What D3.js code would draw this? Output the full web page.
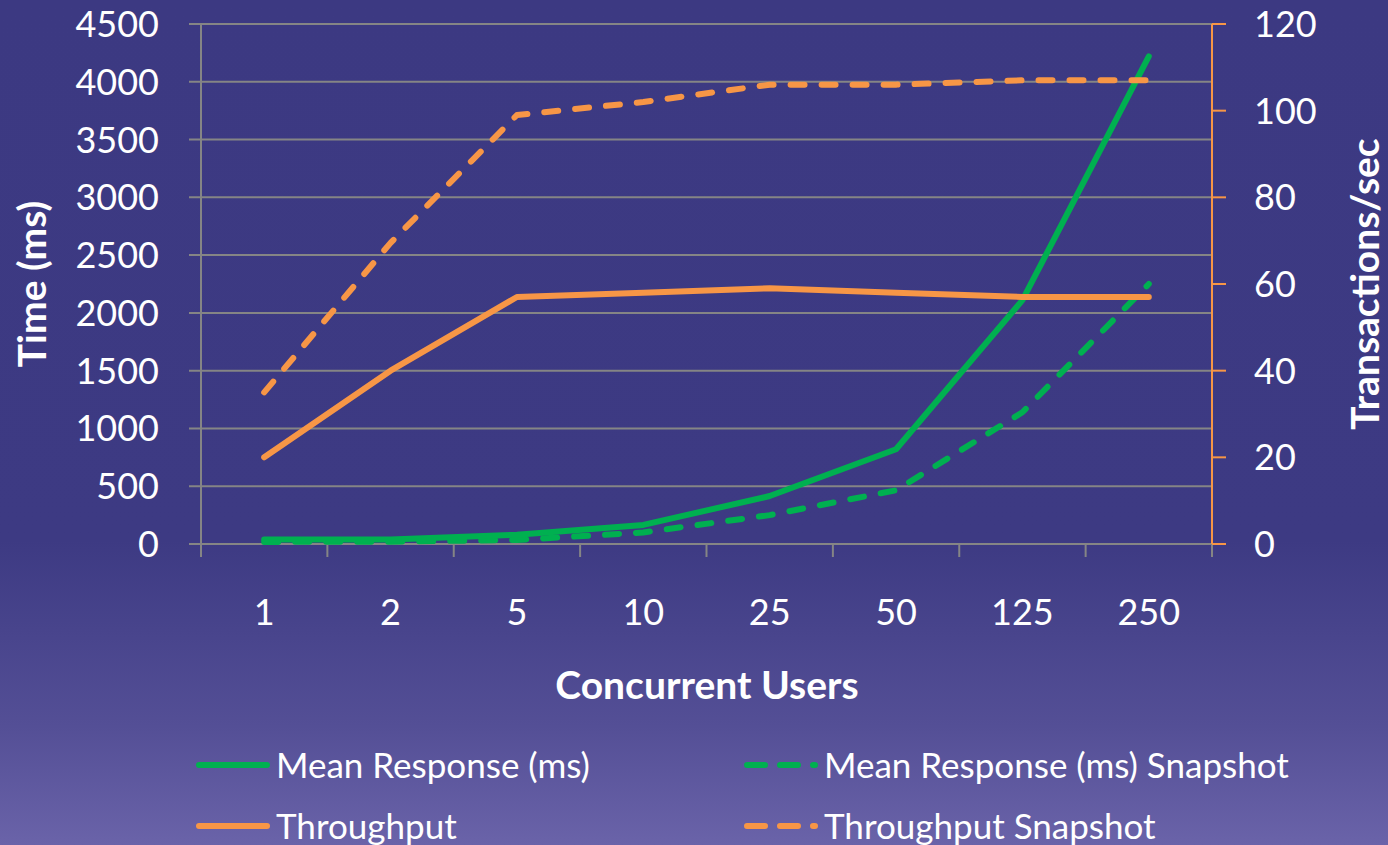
<!DOCTYPE html>
<html><head><meta charset="utf-8">
<script src="https://cdn.jsdelivr.net/npm/d3@7"></script>
<style>html,body{margin:0;padding:0;overflow:hidden;}svg{display:block;}</style>
</head><body><svg id="c" width="1388" height="845"></svg>
<script>
const categories = ["1","2","5","10","25","50","125","250"];
const meanResponse = [38, 40, 80, 165, 415, 820, 2110, 4220];
const meanResponseSnapshot = [18, 20, 35, 100, 250, 465, 1140, 2250];
const throughput = [20, 40, 57, 58, 59, 58, 57, 57];
const throughputSnapshot = [35, 69.5, 99, 102, 106, 106, 107, 107];
const leftTicks = [0,500,1000,1500,2000,2500,3000,3500,4000,4500];
const rightTicks = [0,20,40,60,80,100,120];

const W = 1388, H = 845;
const m = {l: 201, r: 1212, t: 24, b: 544};
const FONT = "Lato, 'Open Sans', sans-serif";
const GREEN = "#00b050", ORANGE = "#f79646", GRID = "#858585";

const svg = d3.select("#c");
const defs = svg.append("defs");
const g = defs.append("linearGradient").attr("id","bg").attr("x1",0).attr("y1",0).attr("x2",0).attr("y2",1);
g.append("stop").attr("offset","0%").attr("stop-color","#3c3982");
g.append("stop").attr("offset","64%").attr("stop-color","#3d3a83");
g.append("stop").attr("offset","86%").attr("stop-color","#544f96");
g.append("stop").attr("offset","100%").attr("stop-color","#6a63a9");
svg.append("rect").attr("width",W).attr("height",H).attr("fill","url(#bg)");

const x = d3.scaleBand().domain(categories).range([m.l, m.r]);
const yL = d3.scaleLinear().domain([0,4500]).range([m.b, m.t]);
const yR = d3.scaleLinear().domain([0,120]).range([m.b, m.t]);

// gridlines
svg.append("g").selectAll("line").data(leftTicks).join("line")
  .attr("x1", m.l - 12).attr("x2", m.r)
  .attr("y1", d => yL(d)).attr("y2", d => yL(d))
  .attr("stroke", GRID).attr("stroke-width", 2);

// left axis line
svg.append("line").attr("x1", m.l).attr("x2", m.l).attr("y1", m.t).attr("y2", m.b + 13)
  .attr("stroke", GRID).attr("stroke-width", 2);
// bottom ticks at band boundaries
const bounds = categories.map(c => x(c)).concat([m.r]);
svg.append("g").selectAll("line").data(bounds.slice(1)).join("line")
  .attr("x1", d => d).attr("x2", d => d).attr("y1", m.b).attr("y2", m.b + 13)
  .attr("stroke", GRID).attr("stroke-width", 2);

// left tick labels
svg.append("g").selectAll("text").data(leftTicks).join("text")
  .attr("x", 159).attr("y", d => yL(d)).attr("dy", "0.36em")
  .attr("text-anchor", "end").attr("fill", "#fff")
  .attr("font-family", FONT).attr("font-size", 36).text(d => d);

// right axis
svg.append("line").attr("x1", m.r).attr("x2", m.r).attr("y1", m.t).attr("y2", m.b)
  .attr("stroke", ORANGE).attr("stroke-width", 2);
svg.append("g").selectAll("line").data(rightTicks).join("line")
  .attr("x1", m.r).attr("x2", m.r + 14).attr("y1", d => yR(d)).attr("y2", d => yR(d))
  .attr("stroke", ORANGE).attr("stroke-width", 2);
svg.append("g").selectAll("text").data(rightTicks).join("text")
  .attr("x", 1254).attr("y", d => yR(d)).attr("dy", "0.36em")
  .attr("text-anchor", "start").attr("fill", "#fff")
  .attr("font-family", FONT).attr("font-size", 36).text(d => d);

// x tick labels
svg.append("g").selectAll("text").data(categories).join("text")
  .attr("x", d => x(d) + x.bandwidth()/2).attr("y", 612).attr("dy", "0.36em")
  .attr("text-anchor", "middle").attr("fill", "#fff")
  .attr("font-family", FONT).attr("font-size", 36).text(d => d);

// axis titles
svg.append("text").attr("transform", "translate(46,284) rotate(-90)")
  .attr("text-anchor", "middle").attr("fill", "#fff").attr("font-family", FONT)
  .attr("font-weight", "bold").attr("font-size", 39).text("Time (ms)");
svg.append("text").attr("transform", "translate(1379,284) rotate(-90)")
  .attr("text-anchor", "middle").attr("fill", "#fff").attr("font-family", FONT)
  .attr("font-weight", "bold").attr("font-size", 39).text("Transactions/sec");
svg.append("text").attr("x", 707).attr("y", 685).attr("dy", "0.36em")
  .attr("text-anchor", "middle").attr("fill", "#fff").attr("font-family", FONT)
  .attr("font-weight", "bold").attr("font-size", 39).text("Concurrent Users");

// series
const cx = c => x(c) + x.bandwidth()/2;
const series = [
  {name: "Mean Response (ms)", values: meanResponse, y: yL, color: GREEN, dash: null},
  {name: "Mean Response (ms) Snapshot", values: meanResponseSnapshot, y: yL, color: GREEN, dash: "14,17"},
  {name: "Throughput", values: throughput, y: yR, color: ORANGE, dash: null},
  {name: "Throughput Snapshot", values: throughputSnapshot, y: yR, color: ORANGE, dash: "14,17"}
];
const drawOrder = [1,0,3,2];
drawOrder.forEach(i => {
  const s = series[i];
  const line = d3.line().x((d, j) => cx(categories[j])).y(d => s.y(d));
  svg.append("path").attr("d", line(s.values)).attr("fill", "none")
    .attr("stroke", s.color).attr("stroke-width", 6)
    .attr("stroke-linecap", "round").attr("stroke-linejoin", "round")
    .attr("stroke-dasharray", s.dash);
});

// legend
const legPos = [
  {lx: 199, ly: 765}, {lx: 747, ly: 765}, {lx: 199, ly: 826}, {lx: 747, ly: 826}
];
series.forEach((s, i) => {
  const p = legPos[i];
  const gg = svg.append("g");
  gg.append("line").attr("x1", p.lx).attr("x2", p.lx + 68).attr("y1", p.ly).attr("y2", p.ly)
    .attr("stroke", s.color).attr("stroke-width", 6).attr("stroke-linecap", "round")
    .attr("stroke-dasharray", s.dash ? "18,15" : null);
  gg.append("text").attr("x", p.lx + 77).attr("y", p.ly).attr("dy", "0.36em")
    .attr("fill", "#fff").attr("font-family", FONT).attr("font-size", 35).text(s.name);
});
</script></body></html>
